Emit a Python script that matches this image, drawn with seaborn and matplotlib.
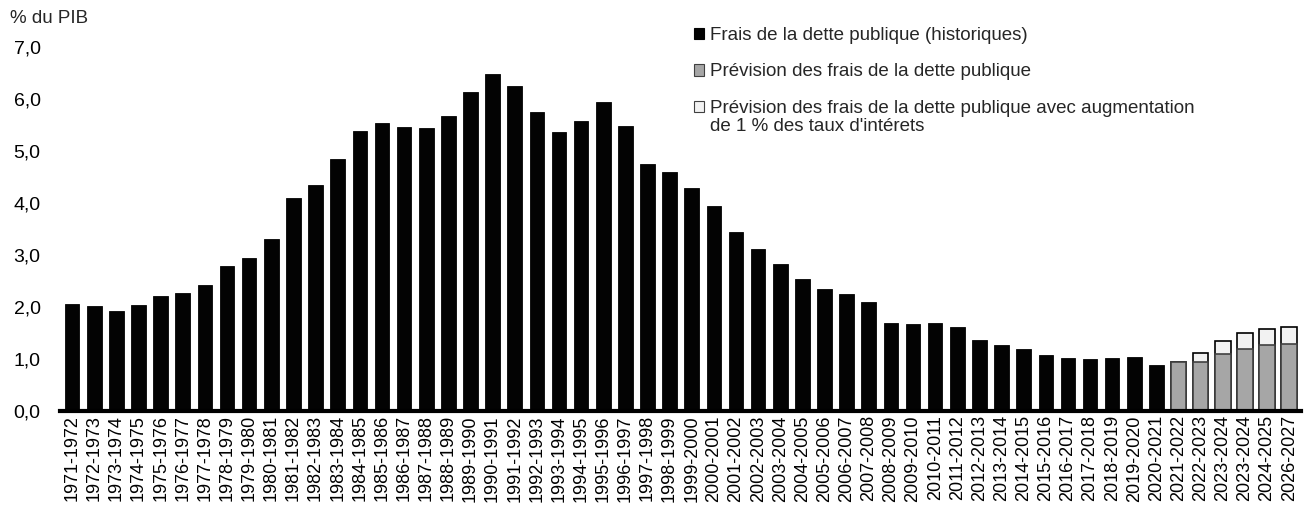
import matplotlib
matplotlib.use("Agg")
import matplotlib.pyplot as plt
from matplotlib.patches import Patch
import numpy as np
import pandas as pd
import seaborn as sns

# Fiscal years (labels as published)
years = [f"{y}-{y + 1}" for y in range(1971, 2021)] + [
    "2021-2022", "2022-2023", "2023-2024", "2023-2024", "2024-2025", "2026-2027",
]

# Public debt charges, % of GDP (historical)
historical = [
    2.06, 2.01, 1.92, 2.03, 2.22, 2.27, 2.42, 2.78, 2.94, 3.30,
    4.10, 4.35, 4.85, 5.39, 5.53, 5.46, 5.44, 5.67, 6.14, 6.48,
    6.25, 5.75, 5.37, 5.58, 5.94, 5.49, 4.75, 4.59, 4.29, 3.95,
    3.44, 3.11, 2.83, 2.53, 2.35, 2.24, 2.09, 1.69, 1.67, 1.69,
    1.61, 1.37, 1.27, 1.19, 1.07, 1.02, 0.99, 1.01, 1.03, 0.89,
]
# Forecast and forecast with a 1-point rise in interest rates
forecast = [0.95, 0.94, 1.10, 1.20, 1.26, 1.29]
forecast_high = [0.95, 1.11, 1.35, 1.49, 1.57, 1.61]

yticks = [0, 1, 2, 3, 4, 5, 6, 7]
ytick_labels = ["0,0", "1,0", "2,0", "3,0", "4,0", "5,0", "6,0", "7,0"]

legend_labels = [
    "Frais de la dette publique (historiques)",
    "Prévision des frais de la dette publique",
    "Prévision des frais de la dette publique avec augmentation",
]
legend_label_cont = "de 1 % des taux d'intérets"

n_hist = len(historical)
pos = np.arange(len(years))
df_hist = pd.DataFrame({"pos": pos[:n_hist], "value": historical})
df_fc = pd.DataFrame({"pos": pos[n_hist:], "value": forecast, "high": forecast_high})

sns.set_theme(style="white")
plt.rcParams["font.family"] = ["Liberation Sans", "DejaVu Sans"]

fig = plt.figure(figsize=(13.04, 5.08), dpi=100)
ax = fig.add_axes([0.046, 0.191, 0.952, 0.7165])

width = 0.66
sns.barplot(data=df_hist, x="pos", y="value", native_scale=True, width=width,
            color="#030303", edgecolor="#030303", linewidth=0.6, saturation=1,
            ax=ax, zorder=2)
sns.barplot(data=df_fc, x="pos", y="high", native_scale=True, width=0.7,
            color="#f2f2f2", edgecolor="#000000", linewidth=1.2, saturation=1,
            ax=ax, zorder=2)
sns.barplot(data=df_fc, x="pos", y="value", native_scale=True, width=0.7,
            color="#a6a6a6", edgecolor="#404040", linewidth=1.2, saturation=1,
            ax=ax, zorder=3)

ax.set_xlim(-0.55, len(years) - 0.45)
ax.set_ylim(0, 7)
ax.set_yticks(yticks)
ax.set_yticklabels(ytick_labels, fontsize=14, color="#000000")
ax.set_xticks(pos)
ax.set_xticklabels(years, rotation=90, fontsize=13, color="#000000")
ax.tick_params(axis="x", length=0, pad=3)
ax.tick_params(axis="y", length=0, pad=14)
ax.set_xlabel("")
ax.set_ylabel("")

for side in ["top", "right", "left"]:
    ax.spines[side].set_visible(False)
ax.spines["bottom"].set_color("#000000")
ax.spines["bottom"].set_linewidth(3)
ax.spines["bottom"].set_zorder(5)

fig.text(0.008, 0.963, "% du PIB", fontsize=13.5, ha="left", va="center")

handles = [
    Patch(facecolor="#030303", edgecolor="#030303", linewidth=0.8),
    Patch(facecolor="#a6a6a6", edgecolor="#404040", linewidth=0.8),
    Patch(facecolor="#f2f2f2", edgecolor="#404040", linewidth=0.8),
]
leg = fig.legend(handles, legend_labels, loc="upper left",
                 bbox_to_anchor=(0.5265, 0.962), frameon=False, fontsize=13.5,
                 handlelength=0.55, handleheight=0.55, handletextpad=0.3,
                 labelspacing=1.05, borderaxespad=0)

# second line of the last legend entry, aligned with its text
fig.canvas.draw()
bb = leg.get_texts()[2].get_window_extent().transformed(fig.transFigure.inverted())
fig.text(bb.x0, bb.y0 - 0.001, legend_label_cont, fontsize=13.5,
         ha="left", va="top")

fig.savefig("out.png", dpi=100)
